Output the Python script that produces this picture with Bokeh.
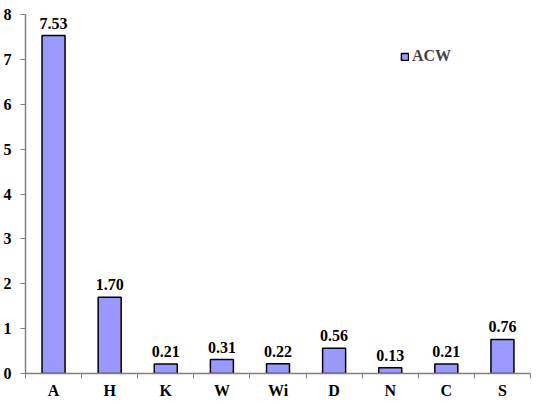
import numpy as np
from bokeh.core.properties import value
from bokeh.embed import file_html
from bokeh.models import ColumnDataSource, FixedTicker, LabelSet, Range1d
from bokeh.plotting import figure
from bokeh.resources import INLINE

# data
categories = ["A", "H", "K", "W", "Wi", "D", "N", "C", "S"]
acw = [7.53, 1.70, 0.21, 0.31, 0.22, 0.56, 0.13, 0.21, 0.76]
y_ticks = [0, 1, 2, 3, 4, 5, 6, 7, 8]

FONT = "Liberation Serif"

xs = [i + 0.5 for i in range(len(categories))]
source = ColumnDataSource(data=dict(
    x=xs,
    top=acw,
    label=["{:.2f}".format(v) for v in acw],
))

p = figure(
    width=534,
    height=401,
    x_range=Range1d(0, len(categories)),
    y_range=Range1d(0, 8),
    output_backend="svg",
    toolbar_location=None,
    tools="",
    min_border_left=25,
    min_border_right=4,
    min_border_top=14,
    min_border_bottom=16,
)

p.vbar(x="x", top="top", width=0.41, source=source,
       fill_color="#9999FF", line_color="black", line_width=1.5,
       legend_label="ACW")

labels = LabelSet(x="x", y="top", text="label", source=source,
                  text_align="center", text_baseline="bottom", y_offset=7,
                  text_font=value(FONT), text_font_style="bold",
                  text_font_size="16px", text_color="black")
p.add_layout(labels)

# grids / outline
p.xgrid.grid_line_color = None
p.ygrid.grid_line_color = None
p.outline_line_color = None

# x axis: labels at category centres, tick marks between categories
p.xaxis.ticker = FixedTicker(ticks=xs, minor_ticks=list(range(len(categories) + 1)))
p.xaxis.major_label_overrides = {x: c for x, c in zip(xs, categories)}
p.xaxis.major_tick_line_color = None
p.xaxis.major_tick_out = 0
p.xaxis.major_tick_in = 0
p.xaxis.minor_tick_line_color = "#808080"
p.xaxis.minor_tick_out = 5
p.xaxis.minor_tick_in = 0
p.xaxis.major_label_standoff = 3
p.xaxis.axis_label_standoff = 0

# y axis
p.yaxis.ticker = FixedTicker(ticks=y_ticks)
p.yaxis.major_tick_out = 5
p.yaxis.major_tick_in = 0
p.yaxis.minor_tick_line_color = None
p.yaxis.major_tick_line_color = "#808080"
p.yaxis.major_label_standoff = 9

for ax in (p.xaxis, p.yaxis):
    ax.axis_line_color = "#808080"
    ax.axis_line_width = 1.5
    ax.major_label_text_font = FONT
    ax.major_label_text_font_style = "bold"
    ax.major_label_text_font_size = "16px"
    ax.major_label_text_color = "black"

# legend
p.legend.location = (375, 308)
p.legend.label_text_font = FONT
p.legend.label_text_font_style = "bold"
p.legend.label_text_font_size = "16px"
p.legend.glyph_width = 9
p.legend.glyph_height = 9
p.legend.border_line_color = None
p.legend.background_fill_alpha = 0
p.legend.padding = 2
p.legend.label_standoff = 3

open("out.html", "w").write(file_html(p, INLINE))
